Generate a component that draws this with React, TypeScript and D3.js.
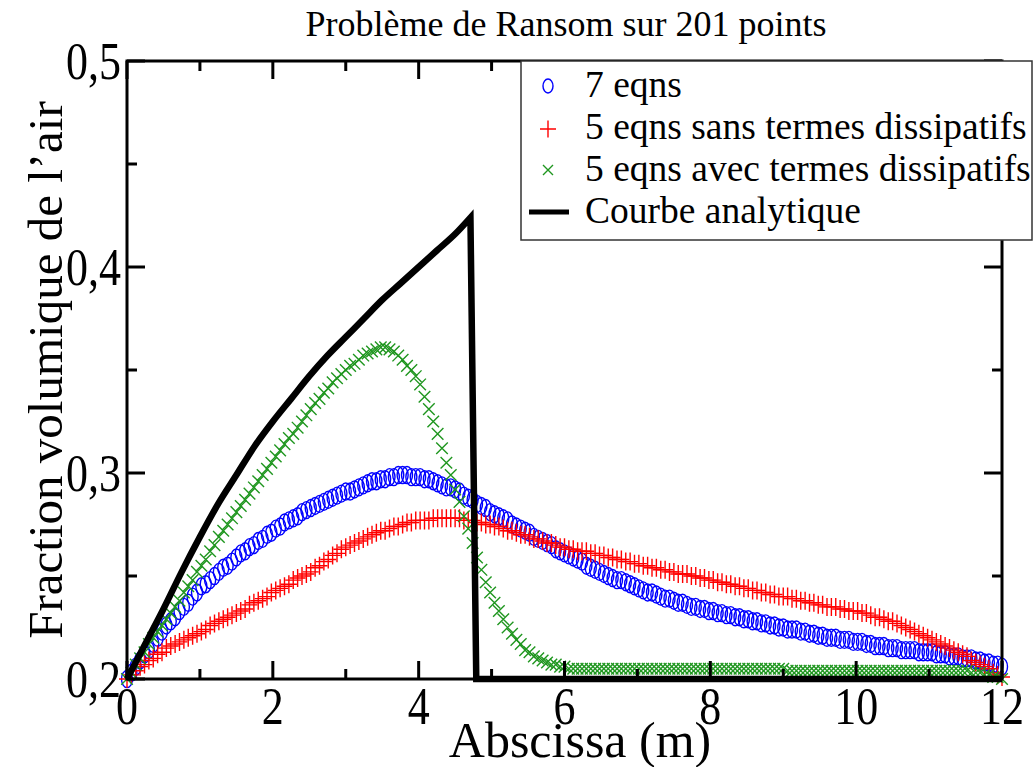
import React from "react";
import * as d3 from "d3";

const TITLE = "Problème de Ransom sur 201 points";
const X_LABEL = "Abscissa (m)";
const Y_LABEL = "Fraction volumique de l\u2019air";
const SERIES_NAMES = ["7 eqns", "5 eqns sans termes dissipatifs", "5 eqns avec termes dissipatifs", "Courbe analytique"];

const X_MAJOR = [0, 2, 4, 6, 8, 10, 12];
const X_MINOR = [1, 3, 5, 7, 9, 11];
const Y_MAJOR = [0.2, 0.3, 0.4, 0.5];
const Y_MINOR = [0.25, 0.35, 0.45];

// 201 sample points, spacing 0.06 m
const N_POINTS = 201;
const DX = 0.06;

const EQN7 = [
  0.200, 0.203, 0.206, 0.209, 0.212, 0.214, 0.217, 0.220, 0.223, 0.226,
  0.228, 0.230, 0.233, 0.235, 0.237, 0.240, 0.242, 0.245, 0.246, 0.248,
  0.250, 0.252, 0.254, 0.255, 0.257, 0.259, 0.261, 0.262, 0.264, 0.265,
  0.267, 0.268, 0.270, 0.271, 0.273, 0.274, 0.276, 0.277, 0.278, 0.279,
  0.281, 0.282, 0.283, 0.284, 0.285, 0.286, 0.287, 0.288, 0.289, 0.290,
  0.291, 0.291, 0.292, 0.293, 0.294, 0.295, 0.296, 0.296, 0.297, 0.297,
  0.298, 0.298, 0.299, 0.299, 0.299, 0.298, 0.298, 0.298, 0.297, 0.297,
  0.296, 0.295, 0.294, 0.293, 0.293, 0.292, 0.291, 0.289, 0.288, 0.287,
  0.285, 0.284, 0.283, 0.281, 0.280, 0.279, 0.278, 0.277, 0.275, 0.274,
  0.273, 0.272, 0.271, 0.269, 0.268, 0.267, 0.266, 0.265, 0.263, 0.262,
  0.261, 0.260, 0.259, 0.258, 0.257, 0.255, 0.254, 0.253, 0.252, 0.251,
  0.250, 0.249, 0.248, 0.248, 0.247, 0.246, 0.245, 0.244, 0.243, 0.242,
  0.242, 0.241, 0.240, 0.239, 0.239, 0.238, 0.237, 0.237, 0.236, 0.235,
  0.235, 0.234, 0.234, 0.233, 0.233, 0.232, 0.232, 0.231, 0.231, 0.230,
  0.230, 0.229, 0.229, 0.228, 0.228, 0.227, 0.227, 0.226, 0.226, 0.225,
  0.225, 0.224, 0.224, 0.224, 0.223, 0.223, 0.222, 0.222, 0.221, 0.221,
  0.220, 0.220, 0.220, 0.219, 0.219, 0.219, 0.218, 0.218, 0.218, 0.217,
  0.217, 0.216, 0.216, 0.216, 0.215, 0.215, 0.215, 0.214, 0.214, 0.214,
  0.214, 0.213, 0.213, 0.213, 0.213, 0.212, 0.212, 0.212, 0.211, 0.211,
  0.211, 0.210, 0.210, 0.210, 0.209, 0.209, 0.208, 0.208, 0.207, 0.207,
  0.206,
];

const EQN5_SANS = [
  0.200, 0.202, 0.204, 0.206, 0.207, 0.209, 0.210, 0.212, 0.213, 0.215,
  0.216, 0.217, 0.218, 0.219, 0.220, 0.221, 0.222, 0.223, 0.224, 0.226,
  0.227, 0.228, 0.229, 0.230, 0.231, 0.232, 0.233, 0.234, 0.236, 0.237,
  0.238, 0.239, 0.240, 0.242, 0.243, 0.244, 0.245, 0.246, 0.248, 0.249,
  0.250, 0.251, 0.252, 0.254, 0.255, 0.257, 0.258, 0.260, 0.261, 0.263,
  0.264, 0.265, 0.266, 0.267, 0.268, 0.269, 0.270, 0.271, 0.272, 0.272,
  0.273, 0.274, 0.274, 0.275, 0.276, 0.276, 0.277, 0.277, 0.277, 0.277,
  0.278, 0.278, 0.278, 0.278, 0.278, 0.278, 0.278, 0.277, 0.277, 0.277,
  0.276, 0.276, 0.275, 0.275, 0.274, 0.274, 0.273, 0.272, 0.272, 0.271,
  0.270, 0.270, 0.269, 0.268, 0.268, 0.267, 0.266, 0.266, 0.265, 0.264,
  0.264, 0.263, 0.263, 0.262, 0.262, 0.262, 0.261, 0.261, 0.260, 0.260,
  0.259, 0.259, 0.258, 0.258, 0.257, 0.257, 0.256, 0.256, 0.255, 0.255,
  0.254, 0.254, 0.253, 0.253, 0.252, 0.252, 0.251, 0.251, 0.251, 0.250,
  0.250, 0.249, 0.249, 0.248, 0.248, 0.247, 0.247, 0.246, 0.246, 0.245,
  0.245, 0.244, 0.244, 0.243, 0.243, 0.242, 0.242, 0.241, 0.241, 0.240,
  0.240, 0.240, 0.239, 0.239, 0.238, 0.238, 0.237, 0.237, 0.236, 0.236,
  0.235, 0.235, 0.235, 0.234, 0.234, 0.233, 0.233, 0.233, 0.232, 0.232,
  0.231, 0.230, 0.230, 0.229, 0.228, 0.228, 0.227, 0.226, 0.225, 0.224,
  0.223, 0.222, 0.221, 0.220, 0.219, 0.218, 0.217, 0.216, 0.215, 0.214,
  0.213, 0.212, 0.211, 0.209, 0.208, 0.207, 0.206, 0.205, 0.203, 0.202,
  0.201,
];

const EQN5_AVEC = [
  0.200, 0.203, 0.207, 0.210, 0.213, 0.217, 0.220, 0.223, 0.226, 0.229,
  0.232, 0.235, 0.238, 0.242, 0.245, 0.248, 0.252, 0.255, 0.258, 0.262,
  0.265, 0.269, 0.272, 0.275, 0.278, 0.281, 0.284, 0.287, 0.290, 0.293,
  0.296, 0.299, 0.302, 0.305, 0.308, 0.311, 0.314, 0.317, 0.319, 0.322,
  0.325, 0.328, 0.331, 0.334, 0.336, 0.339, 0.341, 0.344, 0.346, 0.348,
  0.350, 0.352, 0.353, 0.355, 0.357, 0.358, 0.359, 0.360, 0.361, 0.361,
  0.360, 0.359, 0.357, 0.355, 0.352, 0.350, 0.347, 0.343, 0.337, 0.331,
  0.325, 0.319, 0.312, 0.305, 0.299, 0.292, 0.286, 0.279, 0.273, 0.266,
  0.259, 0.253, 0.247, 0.242, 0.237, 0.233, 0.229, 0.225, 0.222, 0.219,
  0.217, 0.214, 0.213, 0.211, 0.210, 0.209, 0.208, 0.207, 0.207, 0.206,
  0.206, 0.205, 0.205, 0.205, 0.205, 0.205, 0.205, 0.205, 0.205, 0.205,
  0.205, 0.205, 0.205, 0.205, 0.205, 0.205, 0.205, 0.205, 0.205, 0.205,
  0.205, 0.205, 0.205, 0.205, 0.205, 0.205, 0.205, 0.205, 0.205, 0.205,
  0.205, 0.205, 0.205, 0.205, 0.205, 0.205, 0.205, 0.205, 0.205, 0.205,
  0.205, 0.205, 0.205, 0.205, 0.205, 0.205, 0.205, 0.205, 0.205, 0.205,
  0.205, 0.204, 0.204, 0.204, 0.204, 0.204, 0.204, 0.204, 0.204, 0.204,
  0.204, 0.204, 0.204, 0.204, 0.204, 0.204, 0.204, 0.204, 0.204, 0.204,
  0.204, 0.204, 0.204, 0.204, 0.204, 0.204, 0.204, 0.204, 0.204, 0.204,
  0.204, 0.204, 0.204, 0.204, 0.204, 0.204, 0.204, 0.204, 0.204, 0.204,
  0.204, 0.204, 0.204, 0.203, 0.203, 0.203, 0.202, 0.202, 0.201, 0.201,
  0.200,
];

// analytic solution: rising branch (smooth), then shock and flat state
const ANALYTIC_RISE_X = [0, 0.25, 0.5, 0.75, 1.0, 1.25, 1.5, 1.75, 2.0, 2.25, 2.5, 2.75, 3.0, 3.25, 3.5, 3.75, 4.0, 4.25, 4.5, 4.71];
const ANALYTIC_RISE_Y = [0.200, 0.217, 0.234, 0.252, 0.269, 0.285, 0.299, 0.313, 0.325, 0.336, 0.347, 0.357, 0.366, 0.375, 0.384, 0.392, 0.400, 0.408, 0.416, 0.424];
const ANALYTIC_TAIL_X = [4.71, 4.79, 12];
const ANALYTIC_TAIL_Y = [0.424, 0.200, 0.200];

const COLORS = { blue: "#0000ff", red: "#ff0000", green: "#1f961f", black: "#000000" };
const FONT = "'Liberation Serif', 'Times New Roman', serif";

const W = 1036;
const H = 767;
const PLOT = { left: 127, right: 1002, top: 61, bottom: 679 };

const fmtY = (v: number) => d3.format(".1f")(v).replace(".", ",");

function Circle({ cx, cy, rx = 5.5, ry = 8.5 }: { cx: number; cy: number; rx?: number; ry?: number }) {
  return <ellipse cx={cx} cy={cy} rx={rx} ry={ry} fill="none" stroke={COLORS.blue} strokeWidth={1.4} />;
}
function Plus({ cx, cy, h = 8, v = 9 }: { cx: number; cy: number; h?: number; v?: number }) {
  return <path d={`M${cx - h},${cy}H${cx + h}M${cx},${cy - v}V${cy + v}`} stroke={COLORS.red} strokeWidth={1.4} fill="none" />;
}
function Cross({ cx, cy, s = 5.8 }: { cx: number; cy: number; s?: number }) {
  return <path d={`M${cx - s},${cy - s}L${cx + s},${cy + s}M${cx - s},${cy + s}L${cx + s},${cy - s}`} stroke={COLORS.green} strokeWidth={1.4} fill="none" />;
}

export default function App() {
  const x = d3.scaleLinear().domain([0, 12]).range([PLOT.left, PLOT.right]);
  const y = d3.scaleLinear().domain([0.2, 0.5]).range([PLOT.bottom, PLOT.top]);
  const xs = d3.range(N_POINTS).map((i) => i * DX);

  const rise = d3.line<number>()
    .x((_, i) => x(ANALYTIC_RISE_X[i]))
    .y((d) => y(d))
    .curve(d3.curveMonotoneX)(ANALYTIC_RISE_Y) as string;
  const tail = d3.line<number>()
    .x((_, i) => x(ANALYTIC_TAIL_X[i]))
    .y((d) => y(d))(ANALYTIC_TAIL_Y) as string;
  const analytic = rise + tail.replace(/^M/, "L");

  const majorLen = 18;
  const minorLen = 10;

  return (
    <svg width={W} height={H} style={{ position: "absolute", left: 0, top: 0, background: "#fff" }} fontFamily={FONT}>
      <rect x={0} y={0} width={W} height={H} fill="#fff" />
      {/* title */}
      <text x={566} y={36} textAnchor="middle" fontSize={36}>{TITLE}</text>

      {/* series */}
      <g>
        {EQN7.map((v, i) => <Circle key={"b" + i} cx={x(xs[i])} cy={y(v)} />)}
      </g>
      <g>
        {EQN5_SANS.map((v, i) => <Plus key={"r" + i} cx={x(xs[i])} cy={y(v)} />)}
      </g>
      <g>
        {EQN5_AVEC.map((v, i) => <Cross key={"g" + i} cx={x(xs[i])} cy={y(v)} />)}
      </g>
      <path d={analytic} fill="none" stroke={COLORS.black} strokeWidth={6.5} strokeLinejoin="miter" />

      {/* frame */}
      <rect x={PLOT.left} y={PLOT.top} width={PLOT.right - PLOT.left} height={PLOT.bottom - PLOT.top} fill="none" stroke="#000" strokeWidth={3} />
      {/* ticks */}
      <g stroke="#000" strokeWidth={3}>
        {X_MAJOR.map((t) => (
          <g key={"xm" + t}>
            <line x1={x(t)} x2={x(t)} y1={PLOT.bottom} y2={PLOT.bottom - majorLen} />
            <line x1={x(t)} x2={x(t)} y1={PLOT.top} y2={PLOT.top + majorLen} />
          </g>
        ))}
        {X_MINOR.map((t) => (
          <g key={"xn" + t}>
            <line x1={x(t)} x2={x(t)} y1={PLOT.bottom} y2={PLOT.bottom - minorLen} />
            <line x1={x(t)} x2={x(t)} y1={PLOT.top} y2={PLOT.top + minorLen} />
          </g>
        ))}
        {Y_MAJOR.map((t) => (
          <g key={"ym" + t}>
            <line x1={PLOT.left} x2={PLOT.left + majorLen} y1={y(t)} y2={y(t)} />
            <line x1={PLOT.right} x2={PLOT.right - majorLen} y1={y(t)} y2={y(t)} />
          </g>
        ))}
        {Y_MINOR.map((t) => (
          <g key={"yn" + t}>
            <line x1={PLOT.left} x2={PLOT.left + minorLen} y1={y(t)} y2={y(t)} />
            <line x1={PLOT.right} x2={PLOT.right - minorLen} y1={y(t)} y2={y(t)} />
          </g>
        ))}
      </g>
      {/* tick labels */}
      {X_MAJOR.map((t) => (
        <text key={"xl" + t} transform={`translate(${x(t)},724) scale(1,1.2)`} textAnchor="middle" fontSize={44}>{t}</text>
      ))}
      {Y_MAJOR.map((t) => (
        <text key={"yl" + t} transform={`translate(121,${y(t) + 18}) scale(1,1.22)`} textAnchor="end" fontSize={44}>{fmtY(t)}</text>
      ))}
      {/* axis labels */}
      <text transform={`translate(580,757)`} textAnchor="middle" fontSize={50}>{X_LABEL}</text>
      <text transform={`translate(62,370) rotate(-90)`} textAnchor="middle" fontSize={49}>{Y_LABEL}</text>

      {/* legend */}
      <g>
        <rect x={521} y={61} width={511} height={179} fill="#fff" stroke="#333" strokeWidth={1.5} />
        <Circle cx={548} cy={86} rx={5} ry={7} />
        <Plus cx={548} cy={129} h={8} v={8.5} />
        <Cross cx={548} cy={170} s={5} />
        <line x1={529} x2={569} y1={212} y2={212} stroke="#000" strokeWidth={5} />
        {SERIES_NAMES.map((s, i) => (
          <text key={s} x={585} y={97 + i * 42} fontSize={37.5}>{s}</text>
        ))}
      </g>
    </svg>
  );
}
